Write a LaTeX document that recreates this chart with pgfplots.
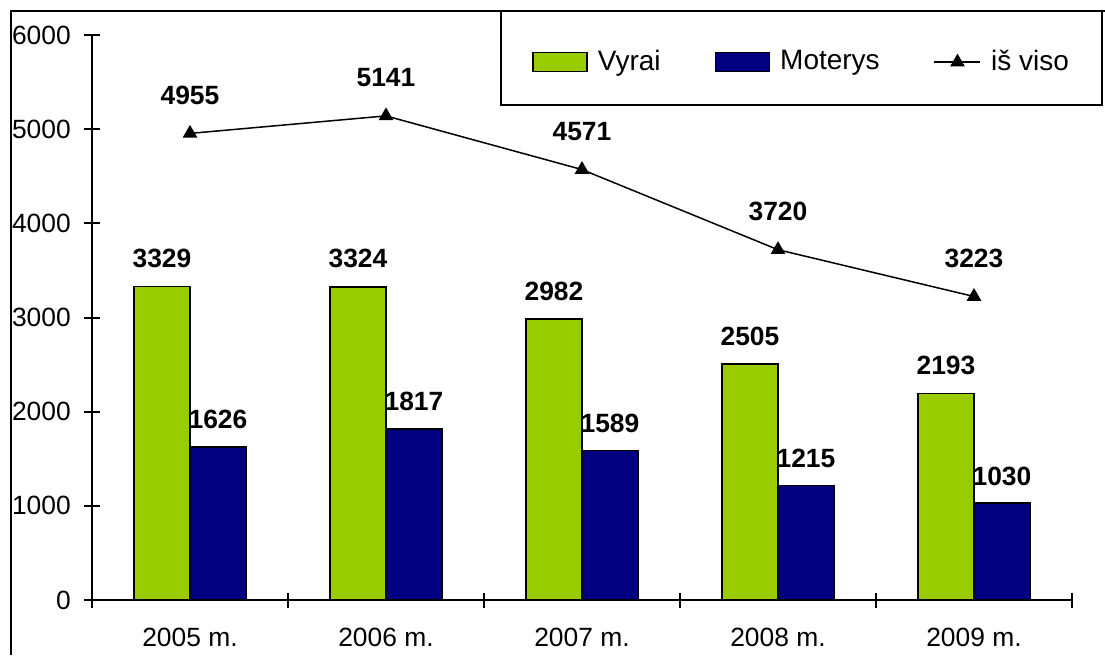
\documentclass[border=0pt]{standalone}
\usepackage{fontspec}
\setmainfont{Liberation Sans}
\usepackage{pgfplots}
\pgfplotsset{compat=1.18}
\definecolor{vgreen}{HTML}{99CC00}
\definecolor{mnavy}{HTML}{000080}
\pgfplotsset{
  barleg/.style={legend image code/.code={\draw[##1] (0pt,-4.75pt) rectangle (27pt,4.75pt);}},
  lineleg/.style={legend image code/.code={\draw[mark repeat=2,mark phase=2,##1] plot coordinates {(0pt,0pt) (11.5pt,0pt) (23pt,0pt)};}},
}
\newcommand{\lblfont}{\fontsize{13.2}{15}\selectfont}
\begin{document}
\lblfont
\begin{tikzpicture}
\useasboundingbox (0,0) rectangle (552.5pt,327.5pt);
\draw[line width=1pt] (5.5pt,0) -- (5.5pt,322pt) -- (552.5pt,322pt);
\draw[line width=1pt, fill=white] (250.5pt,275pt) rectangle (551pt,322pt);
\begin{axis}[
  at={(46pt,27.5pt)}, anchor=south west,
  scale only axis, width=490pt, height=282.5pt,
  xmin=0, xmax=5, ymin=0, ymax=6000,
  axis x line*=bottom, axis y line*=left,
  axis line style={line width=1pt},
  ytick={0,1000,...,6000},
  xtick={0.5,1.5,2.5,3.5,4.5},
  xticklabels={2005 m.,2006 m.,2007 m.,2008 m.,2009 m.},
  minor xtick={0,1,2,3,4,5},
  major x tick style={draw=none},
  tick align=center,
  major tick length=8pt, minor tick length=7.5pt,
  tick style={line width=1pt, black},
  every tick label/.append style={font=\lblfont},
  /pgf/number format/1000 sep={},
  /pgf/number format/assume math mode=true,
  xticklabel style={yshift=-5.5pt},
  yticklabel style={xshift=-2pt},
  legend style={draw=none, fill=none, at={(0.449,0.952)}, anchor=west,
    inner sep=0pt, font=\fontsize{14}{16}\selectfont,
    /tikz/every odd column/.append style={column sep=3pt},
    /tikz/every even column/.append style={column sep=25pt},
    /tikz/column 4/.append style={column sep=27.5pt},
    /tikz/column 5/.append style={column sep=5.5pt}},
  legend columns=3,
  clip=false,
]
\addplot[ybar, bar width=28pt, bar shift=-14pt, fill=vgreen, draw=black, line width=0.75pt,
  nodes near coords,
  every node near coord/.style={anchor=base, xshift=-14pt, yshift=9.5pt, inner sep=0pt, font=\lblfont\bfseries, black},
  barleg]
  coordinates {(0.5,3329) (1.5,3324) (2.5,2982) (3.5,2505) (4.5,2193)};
\addplot[ybar, bar width=28pt, bar shift=14pt, fill=mnavy, draw=black, line width=0.75pt,
  nodes near coords,
  every node near coord/.style={anchor=base, xshift=14pt, yshift=9pt, inner sep=0pt, font=\lblfont\bfseries, black},
  barleg]
  coordinates {(0.5,1626) (1.5,1817) (2.5,1589) (3.5,1215) (4.5,1030)};
\addplot[black, line width=0.75pt, mark=triangle*, mark size=3.5pt, mark options={solid},
  nodes near coords,
  every node near coord/.style={anchor=base, yshift=14.5pt, inner sep=0pt, font=\lblfont\bfseries, black},
  lineleg]
  coordinates {(0.5,4955) (1.5,5141) (2.5,4571) (3.5,3720) (4.5,3223)};
\legend{Vyrai, Moterys, iš viso}
\end{axis}
\end{tikzpicture}
\end{document}
